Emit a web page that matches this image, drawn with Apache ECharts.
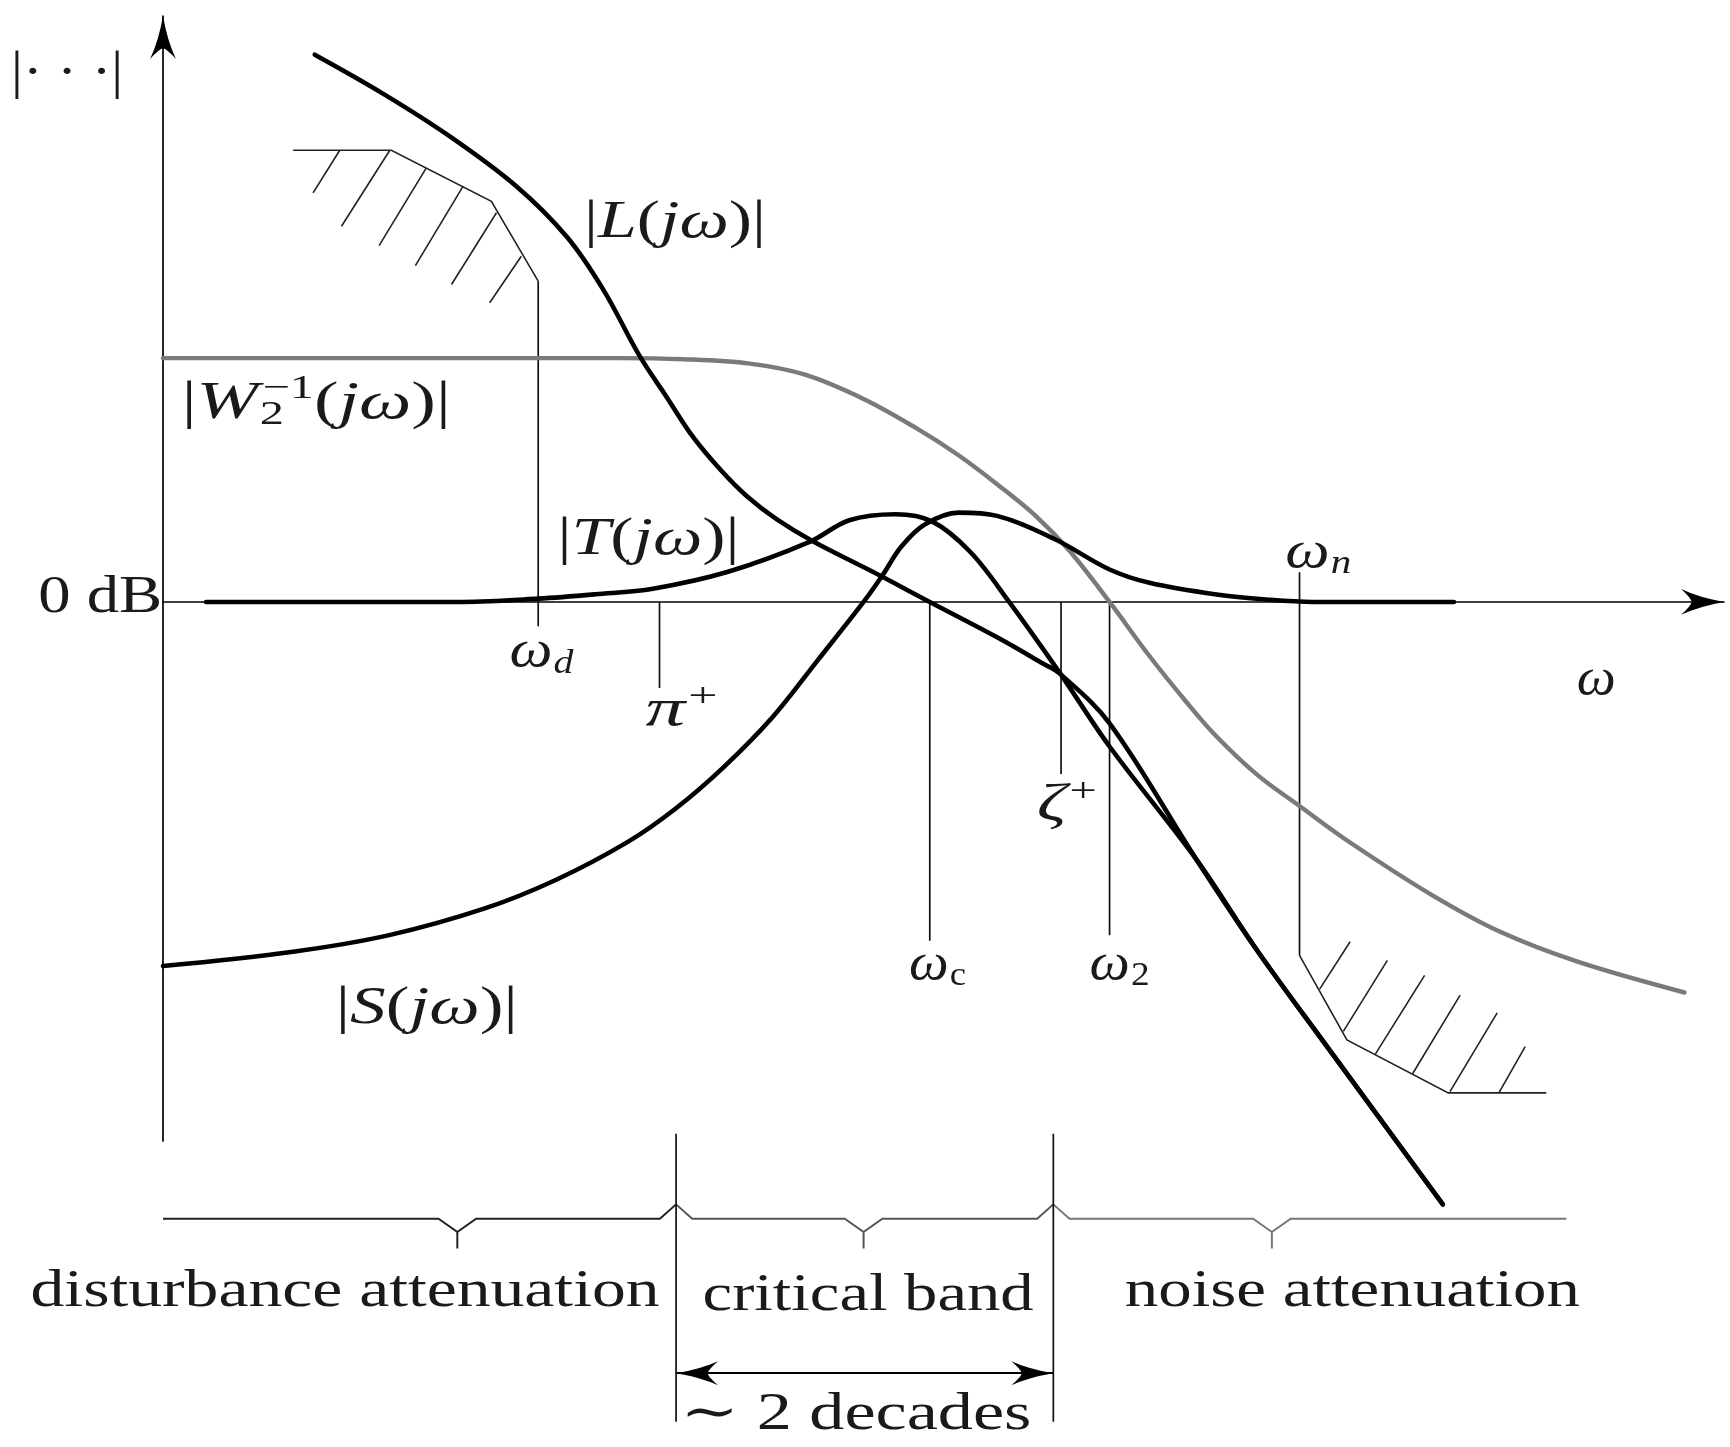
<!DOCTYPE html>
<html>
<head>
<meta charset="utf-8">
<title>Loop shape and the critical band</title>
<script src="https://cdn.jsdelivr.net/npm/echarts@6/dist/echarts.min.js"></script>
<style>
  html, body { margin: 0; padding: 0; background: #fff; }
  #chart { width: 1730px; height: 1447px; }
</style>
</head>
<body>
<div id="chart"></div>
<script>
// x : log frequency, in decades from the |...| axis
// y : magnitude in dB (0 dB on the omega axis)

// |L(jw)| open loop
var lCurve = [
  [0.807, 58.37], [1.167, 54.25], [1.525, 49.66], [1.877, 44.37], [2.147, 38.95],
  [2.341, 33.31], [2.534, 26.24], [2.675, 21.95], [2.816, 17.65], [2.963, 14.12],
  [3.103, 11.30], [3.262, 8.83], [3.455, 6.47], [3.766, 3.30], [4.077, 0],
  [4.435, -3.77], [4.681, -6.59], [4.769, -7.65], [5.033, -12.95], [5.497, -27.54],
  [5.814, -37.07], [6.172, -46.96], [6.805, -64.26]
];
// |T(jw)| complementary sensitivity
var tCurve = [
  [0.229, 0], [1.596, 0], [1.995, 0.35], [2.300, 0.82], [2.605, 1.41], [3.009, 3.24],
  [3.438, 6.40], [3.649, 8.71], [3.895, 9.36], [4.089, 8.59], [4.294, 5.30], [4.499, 0],
  [4.769, -7.59], [5.033, -15.42], [5.497, -27.54], [5.814, -37.07], [6.172, -46.96],
  [6.805, -64.26]
];
// |S(jw)| sensitivity
var sCurve = [
  [0, -38.84], [0.692, -37.31], [1.203, -35.54], [1.707, -32.72], [2.088, -29.66],
  [2.476, -25.54], [2.728, -22.01], [2.980, -17.65], [3.238, -12.36], [3.485, -6.12],
  [3.725, 0], [3.825, 2.82], [3.925, 5.88], [4.048, 8.24], [4.230, 9.53], [4.435, 9.18],
  [4.740, 6.71], [5.033, 3.46], [5.245, 2.04], [5.602, 0.79], [5.867, 0.26], [6.113, 0],
  [6.864, 0]
];
// |W2^-1(jw)| weight bound
var w2Curve = [
  [0, 26.01], [2.417, 26.01], [2.769, 25.89], [3.121, 25.42], [3.414, 24.24],
  [3.725, 21.65], [4.001, 18.59], [4.230, 15.65], [4.440, 12.48], [4.640, 9.18],
  [4.822, 5.41], [5.033, 0], [5.245, -5.77], [5.438, -10.59], [5.602, -14.36],
  [5.820, -18.48], [6.043, -21.77], [6.312, -25.66], [6.741, -31.19], [7.110, -35.19],
  [7.521, -38.37], [8.090, -41.66]
];

// frequency markers: [x, y top, y bottom]  (w_d, pi+, w_c, zeta+, w_2, w_n)
var markerLines = [
  [1.995, 34.21, -2.59], [2.640, 0, -9.18], [4.077, 0, -36.13],
  [4.775, 0, -18.36], [5.033, 0, -35.54], [6.043, 3.18, -37.70]
];

// forbidden regions (low frequency: disturbance, high frequency: noise)
var lowBound = [[0.692, 48.18], [1.214, 48.18], [1.746, 42.74], [1.995, 34.21]];
var lowHatch = [
  [[0.940, 48.18], [0.798, 43.64]], [[1.206, 48.18], [0.949, 40.07]],
  [[1.400, 46.30], [1.149, 38.01]], [[1.596, 44.35], [1.342, 35.88]],
  [[1.773, 41.51], [1.534, 33.86]], [[1.905, 36.87], [1.737, 31.91]]
];
var highBound = [[6.043, -37.70], [6.295, -46.71], [6.834, -52.37], [7.355, -52.37]];
var highHatch = [
  [[6.150, -41.30], [6.312, -36.25]], [[6.276, -45.80], [6.510, -38.24]],
  [[6.447, -48.20], [6.708, -39.83]], [[6.645, -50.30], [6.897, -41.94]],
  [[6.843, -52.23], [7.094, -43.83]], [[7.103, -52.37], [7.243, -47.43]]
];

// frequency bands under the plot
var bandEdges = [0, 2.728, 4.734, 7.462];
var braceDips = [1.565, 3.725, 5.896];
var braceLevel = -65.79;
var dividerSpan = [-56.73, -87.44];
var decadesLevel = -82.26;

var FONT = '"Liberation Serif", "DejaVu Serif", serif';
var INK = '#1a1a1a';
// latex like arrow head, tip at the centre of its box
var ARROW = 'path://M0,0L0,0M0,40Q4,63 12,80Q4,71 0,70Q-4,71 -12,80Q-4,63 0,40Z';

var RICH = {
  r: {fontFamily: FONT, fontSize: 52, fill: INK},
  i: {fontFamily: FONT, fontSize: 52, fontStyle: 'italic', fill: INK},
  sub: {fontFamily: FONT, fontSize: 34, fontStyle: 'italic', fill: INK, padding: [22, 0, 0, 1]},
  subr: {fontFamily: FONT, fontSize: 34, fill: INK, padding: [22, 0, 0, 1]},
  sup: {fontFamily: FONT, fontSize: 34, fill: INK, padding: [0, 0, 28, 2]},
  supk: {fontFamily: FONT, fontSize: 34, fill: INK, padding: [0, 0, 30, -15]}
};

// text: pieces, anchor (data coords), target width in px
var notes = [
  {t: [['|', 'r'], ['\u00b7 \u00b7 \u00b7', 'r'], ['|', 'r']], at: [-0.510, 56.25], w: 112},
  {t: [['|', 'r'], ['L', 'i'], ['(', 'r'], ['j', 'i'], ['\u03c9', 'i'], [')', 'r'], ['|', 'r']], at: [2.722, 40.37], w: 182},
  {t: [['|', 'r'], ['W', 'i'], ['2', 'subr'], ['\u22121', 'supk'], ['(', 'r'], ['j', 'i'], ['\u03c9', 'i'], [')', 'r'], ['|', 'r']], at: [0.815, 21.07], w: 269},
  {t: [['|', 'r'], ['T', 'i'], ['(', 'r'], ['j', 'i'], ['\u03c9', 'i'], [')', 'r'], ['|', 'r']], at: [2.581, 6.59], w: 182},
  {t: [['0 dB', 'r']], at: [-0.334, 0.35], w: 124},
  {t: [['\u03c9', 'i'], ['d', 'sub']], at: [2.012, -5.41], w: 64},
  {t: [['\u03c0', 'i'], ['+', 'sup']], at: [2.757, -11.65], w: 72},
  {t: [['\u03c9', 'i']], at: [7.621, -8.36], w: 39},
  {t: [['\u03c9', 'i'], ['n', 'sub']], at: [6.142, 5.18], w: 66},
  {t: [['\u03b6', 'i'], ['+', 'sup']], at: [4.805, -21.77], w: 60},
  {t: [['\u03c9', 'i'], ['c', 'subr']], at: [4.118, -38.72], w: 57},
  {t: [['\u03c9', 'i'], ['2', 'subr']], at: [5.086, -38.72], w: 60},
  {t: [['|', 'r'], ['S', 'i'], ['(', 'r'], ['j', 'i'], ['\u03c9', 'i'], [')', 'r'], ['|', 'r']], at: [1.402, -43.43], w: 182},
  {t: [['disturbance attenuation', 'r']], at: [0.968, -73.67], w: 629},
  {t: [['critical band', 'r']], at: [3.749, -74.03], w: 331},
  {t: [['noise attenuation', 'r']], at: [6.324, -73.67], w: 455},
  {t: [['\u223c 2 decades', 'r']], at: [3.684, -86.74], w: 351}
];

function curve(data, color, width, z) {
  return {
    type: 'line', data: data, smooth: 0.35, symbol: 'none', clip: false, silent: true, z: z,
    lineStyle: {color: color, width: width, cap: 'round', join: 'round'}
  };
}

function segments(list, color, width) {
  return {
    type: 'lines', coordinateSystem: 'cartesian2d', polyline: true, clip: false, silent: true, z: 3,
    data: list.map(function (c) { return {coords: c}; }),
    lineStyle: {color: color, width: width, opacity: 1, curveness: 0}
  };
}

function bracePath(a, b, dip, tipA, tipB) {
  var y = braceLevel, pts = [];
  if (tipA) { pts.push([a, y + 1.53], [a + 0.086, y]); } else { pts.push([a, y]); }
  pts.push([dip - 0.1, y], [dip, y - 1.41], [dip, y - 3.18], [dip, y - 1.41], [dip + 0.1, y]);
  if (tipB) { pts.push([b - 0.086, y], [b, y + 1.53]); } else { pts.push([b, y]); }
  return pts;
}

var markerSegs = markerLines.map(function (m) { return [[m[0], m[1]], [m[0], m[2]]]; });
var braceSegs = braceDips.map(function (d, i) {
  return bracePath(bandEdges[i], bandEdges[i + 1], d, i > 0, i < braceDips.length - 1);
});
var dividerSegs = [bandEdges[1], bandEdges[2]].map(function (x) {
  return [[x, dividerSpan[0]], [x, dividerSpan[1]]];
});
var braceColors = ['#222', '#555', '#777'];

var axisCommon = {
  type: 'value',
  axisLine: {onZero: true, symbol: ['none', ARROW], symbolSize: [30, 86], lineStyle: {color: '#000', width: 1.7}},
  axisTick: {show: false}, axisLabel: {show: false}, splitLine: {show: false}
};

var option = {
  animation: false,
  backgroundColor: '#fff',
  grid: {left: 163, top: 16, width: 1561, height: 1125},
  xAxis: Object.assign({min: 0, max: 8.3}, axisCommon),
  yAxis: Object.assign({min: -57.5, max: 62.5}, axisCommon),
  series: [
    curve(w2Curve, '#7a7a7a', 4.4, 4),
    curve(sCurve, '#000', 4.6, 5),
    curve(tCurve, '#000', 4.6, 5),
    curve(lCurve, '#000', 4.6, 5),
    segments(markerSegs, '#111', 1.7),
    segments([lowBound, highBound], '#222', 1.6),
    segments(lowHatch.concat(highHatch), '#222', 1.6),
    segments(dividerSegs, '#111', 1.7),
    {
      type: 'lines', coordinateSystem: 'cartesian2d', polyline: true, clip: false, silent: true,
      data: braceSegs.map(function (c, i) {
        return {coords: c, lineStyle: {color: braceColors[i]}};
      }),
      lineStyle: {width: 2, opacity: 1}
    },
    {
      // lines series reads symbolSize as [from, to]
      type: 'lines', coordinateSystem: 'cartesian2d', clip: false, silent: true,
      symbol: [ARROW, ARROW], symbolSize: [[24, 84], [24, 84]],
      data: [{coords: [[bandEdges[1], decadesLevel], [bandEdges[2], decadesLevel]]}],
      lineStyle: {color: '#000', width: 2, opacity: 1, curveness: 0}
    }
  ]
};

var chart = echarts.init(document.getElementById('chart'));
chart.setOption(option);

// text labels, stretched to the widths of the original drawing
var ctx = document.createElement('canvas').getContext('2d');
function pieceWidth(p) {
  var s = RICH[p[1]];
  ctx.font = (s.fontStyle || 'normal') + ' ' + s.fontSize + 'px ' + FONT;
  var w = ctx.measureText(p[0]).width;
  if (s.padding) w += s.padding[1] + s.padding[3];
  return w;
}

var texts = notes.map(function (n) {
  var natural = 0, str = '';
  n.t.forEach(function (p) {
    natural += pieceWidth(p);
    str += '{' + p[1] + '|' + p[0] + '}';
  });
  var pos = chart.convertToPixel({gridIndex: 0}, n.at);
  return {
    type: 'text', x: pos[0], y: pos[1], scaleX: n.w / natural, silent: true, z: 10,
    style: {
      text: str, rich: RICH, fill: INK, font: '52px ' + FONT,
      align: 'center', verticalAlign: 'middle', textAlign: 'center', textVerticalAlign: 'middle'
    }
  };
});

chart.setOption({graphic: texts});
</script>
</body>
</html>
